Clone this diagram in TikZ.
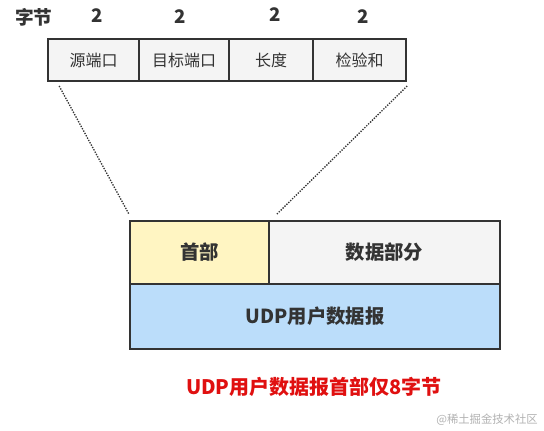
\documentclass[tikz,border=0pt]{standalone}
\usepackage{fontspec}
\setmainfont{Noto Sans CJK SC}
\usetikzlibrary{positioning}

\definecolor{framegray}{HTML}{333333}
\definecolor{fieldgray}{HTML}{F4F4F4}
\definecolor{headyellow}{HTML}{FFF5C2}
\definecolor{udpblue}{HTML}{BBDDFA}
\definecolor{notered}{HTML}{E01010}

\tikzset{
    field/.style={draw=framegray, line width=1.5pt, fill=fieldgray, inner sep=0pt,
        minimum height=31.5pt, font=\fontsize{12}{14}\selectfont, text=framegray},
    part/.style={draw=framegray, line width=1.5pt, inner sep=0pt,
        minimum height=47.5pt, font=\bfseries\fontsize{14.5}{17}\selectfont, text=framegray},
    bytes/.style={font=\bfseries\fontsize{14}{16}\selectfont, text=framegray},
    zoomline/.style={densely dotted, line width=1pt, framegray}
}

\begin{document}
\begin{tikzpicture}[x=0.75pt, y=-0.75pt]
            \useasboundingbox[fill=white] (0, 0) rectangle (544, 430);

            % header fields
            \node[field, minimum width=68pt] (src) at (93.5, 60) {源端口};
            \node[field, minimum width=68pt] (dst) at (184, 60) {目标端口};
            \node[field, minimum width=63pt] (len) at (271, 60) {长度};
            \node[field, minimum width=70pt] (chk) at (359.5, 60) {检验和};

            \node[bytes] (unit) at (34, 17) {字节};
            \node[bytes] (n1) at (97, 16) {2};
            \node[bytes] (n2) at (180, 17) {2};
            \node[bytes] (n3) at (275, 15) {2};
            \node[bytes] (n4) at (363, 17) {2};

            % datagram
            \node[part, fill=headyellow, minimum width=104pt] (head) at (199.5, 252.5) {首部};
            \node[part, fill=fieldgray, minimum width=173pt] (data) at (384.5, 252.5) {数据部分};
            \node[part, fill=udpblue, minimum width=277.5pt, minimum height=48.5pt] (udp) at (315, 316.5) {UDP用户数据报};

            \draw[zoomline] ([xshift=9pt, yshift=-3pt]src.south west) -- ([yshift=4pt]head.north west);
            \draw[zoomline] ([yshift=-3pt]chk.south east) -- ([xshift=5pt, yshift=4pt]head.north east);

            \node[font=\bfseries\fontsize{15}{18}\selectfont, text=notered] (note) at (314, 387) {UDP用户数据报首部仅8字节};
            \node[font=\fontsize{8.5}{10}\selectfont, text=black!30] (mark) at (487, 420) {@稀土掘金技术社区};
\end{tikzpicture}
\end{document}
